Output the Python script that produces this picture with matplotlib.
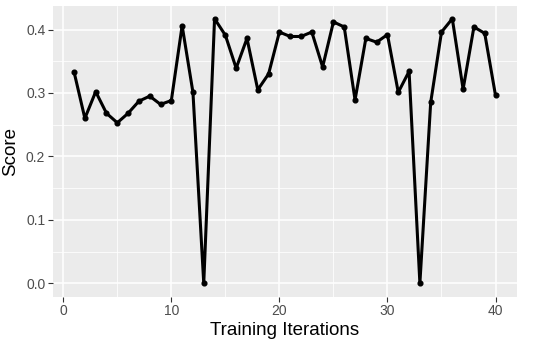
import matplotlib
matplotlib.use("Agg")
import matplotlib.pyplot as plt
from matplotlib.ticker import MultipleLocator

plt.rcParams['font.family'] = ['Liberation Sans', 'DejaVu Sans']

iterations = list(range(1, 41))
scores = [0.333, 0.260, 0.302, 0.268, 0.253, 0.268, 0.287, 0.295, 0.282, 0.288,
          0.406, 0.301, 0.000, 0.417, 0.391, 0.339, 0.386, 0.305, 0.330, 0.396,
          0.389, 0.389, 0.396, 0.341, 0.412, 0.404, 0.289, 0.386, 0.380, 0.392,
          0.301, 0.334, 0.000, 0.285, 0.396, 0.417, 0.306, 0.404, 0.394, 0.296]
x_ticks = [0, 10, 20, 30, 40]
y_ticks = [0.0, 0.1, 0.2, 0.3, 0.4]
y_tick_labels = ["0.0", "0.1", "0.2", "0.3", "0.4"]

fig = plt.figure(figsize=(5.5, 3.47), dpi=100)
ax = fig.add_axes([53/550, 1 - 296.5/347, (516.6-53)/550, (296.5-5.5)/347])
ax.set_facecolor('#EBEBEB')

xmin, xmax = min(iterations), max(iterations)
xr = xmax - xmin
ax.set_xlim(xmin - 0.05*xr, xmax + 0.05*xr)
ymin, ymax = min(scores), max(scores)
yr = ymax - ymin
ax.set_ylim(ymin - 0.05*yr, ymax + 0.05*yr)

ax.set_xticks(x_ticks)
ax.set_yticks(y_ticks)
ax.set_yticklabels(y_tick_labels)
ax.xaxis.set_minor_locator(MultipleLocator(5))
ax.yaxis.set_minor_locator(MultipleLocator(0.05))
ax.grid(which='major', color='white', linewidth=1.1)
ax.grid(which='minor', color='white', linewidth=0.55)
ax.set_axisbelow(True)
for s in ax.spines.values():
    s.set_visible(False)
ax.tick_params(which='major', length=3.5, width=0.8, color='#333333',
               labelsize=10, labelcolor='#4D4D4D', pad=2)
ax.tick_params(which='minor', length=0)

ax.plot(iterations, scores, color='black', linewidth=2.2, marker='o',
        markersize=3.4, zorder=3)

ax.set_xlabel('Training Iterations', fontsize=13.5, color='black', labelpad=3)
ax.set_ylabel('Score', fontsize=13.5, color='black', labelpad=5)

fig.savefig('out.png', dpi=100, facecolor='white')
